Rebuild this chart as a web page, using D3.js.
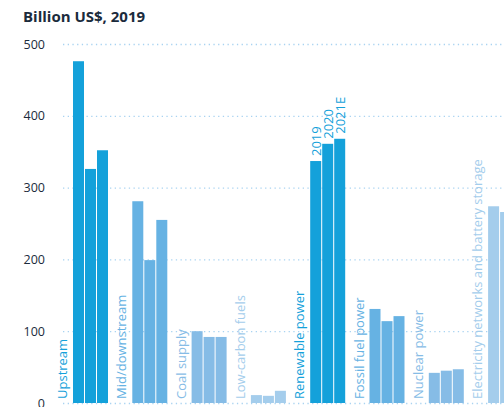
<!DOCTYPE html>
<html>
<head>
<meta charset="utf-8">
<script src="https://cdn.jsdelivr.net/npm/d3@7"></script>
<style>
  body { margin: 0; background: white; overflow: hidden; }
  svg { display: block; font-family: "Open Sans", Arial, sans-serif; }
</style>
</head>
<body>
<div id="wrapper"></div>
<script>
// data
var categories = ["Upstream", "Mid/downstream", "Coal supply", "Low-carbon fuels",
                  "Renewable power", "Fossil fuel power", "Nuclear power",
                  "Electricity networks and battery storage"];
var years = ["2019", "2020", "2021E"];
var values = [
    [476, 326, 352],
    [281, 199, 255],
    [100, 92, 92],
    [11, 10, 17],
    [337, 361, 368],
    [131, 114, 121],
    [42, 45, 47],
    [274, 266, 270]
];
var yTicks = [0, 100, 200, 300, 400, 500];
var catColors = ["#14a1da", "#66b2e3", "#86bce6", "#a4cdec",
                 "#14a1da", "#66b2e3", "#86bce6", "#a4cdec"];
var title = "Billion US$, 2019";

function create(){
    const dimension = {
        width: 504,
        height: 407,
        margin: { top: 44, right: 0, bottom: 4, left: 63 }
    };

    const svg = d3.select("#wrapper")
        .append("svg")
        .attr("width", dimension.width)
        .attr("height", dimension.height);

    // y scale
    var y = d3.scaleLinear()
        .domain([0, 500])
        .range([dimension.height - dimension.margin.bottom, dimension.margin.top]);

    // group scale, each band = label space + 3 bars
    var x = d3.scaleBand()
        .domain(categories)
        .range([50, 50 + 8 * 59.3]);

    var xi = d3.scaleBand()
        .domain(years)
        .range([23, 59]);

    // title
    svg.append("text")
        .attr("x", 23)
        .attr("y", 22)
        .attr("font-size", 15)
        .attr("font-weight", "bold")
        .attr("fill", "#1b2b3c")
        .text(title);

    // y axis with dotted grid
    var yAxis = svg.append("g")
        .attr("transform", "translate(" + dimension.margin.left + ",0)")
        .call(d3.axisLeft(y).tickValues(yTicks).tickSize(-(dimension.width - dimension.margin.left)).tickPadding(18));
    yAxis.select(".domain").remove();
    yAxis.selectAll(".tick line")
        .attr("stroke", "#a9d3f1")
        .attr("stroke-width", 1.3)
        .attr("stroke-dasharray", "1.3,3.4");
    yAxis.selectAll(".tick text")
        .attr("font-size", 12.5)
        .attr("font-family", "Open Sans, Arial, sans-serif")
        .attr("fill", "#1b2b3c");

    // groups
    var groups = svg.append("g")
        .selectAll("g.group")
        .data(categories)
        .enter()
        .append("g")
        .attr("class", "group")
        .attr("transform", d => "translate(" + x(d) + ",0)");

    groups.selectAll("rect")
        .data((d, i) => values[i].map((v, j) => ({v: v, year: years[j], c: i})))
        .enter()
        .append("rect")
        .attr("x", d => xi(d.year))
        .attr("y", d => y(d.v))
        .attr("width", xi.bandwidth() - 1)
        .attr("height", d => y(0) - y(d.v))
        .attr("fill", d => catColors[d.c]);

    // category labels, rotated
    groups.append("text")
        .attr("transform", "translate(" + (xi(years[0]) - 6) + "," + (y(0) - 4) + ") rotate(-90)")
        .attr("font-size", 13)
        .attr("fill", (d, i) => catColors[i])
        .text(d => d);

    // year labels over renewable power
    var ri = categories.indexOf("Renewable power");
    svg.append("g")
        .selectAll("text")
        .data(years)
        .enter()
        .append("text")
        .attr("transform", (d, j) => "translate(" + (x(categories[ri]) + xi(d) + xi.bandwidth() / 2 - 0.5) + "," + (y(values[ri][j]) - 5) + ") rotate(-90)")
        .attr("dominant-baseline", "central")
        .attr("font-size", 13)
        .attr("fill", catColors[ri])
        .text(d => d);
}
create();
</script>
</body>
</html>
